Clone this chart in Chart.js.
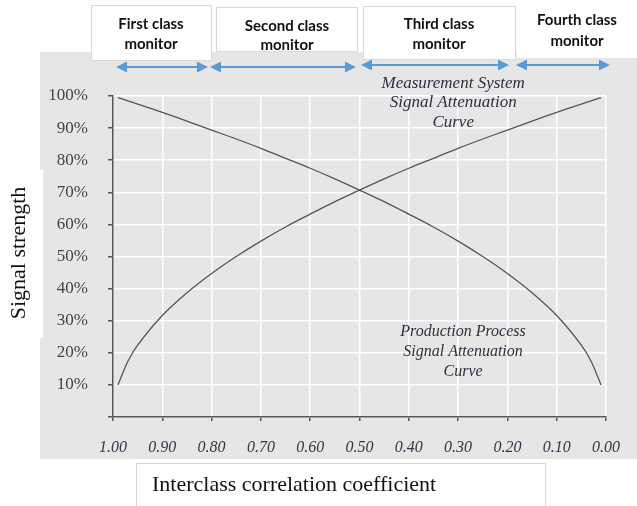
<!DOCTYPE html>
<html>
<head>
<meta charset="utf-8">
<script src="https://cdn.jsdelivr.net/npm/chart.js@4"></script>
<style>
  body { margin: 0; background: #fff; }
  canvas { display: block; }
</style>
</head>
<body>
<canvas id="myChart" width="637" height="506"></canvas>
<script>
// values
const icc = [0.99, 0.97, 0.95, 0.90, 0.85, 0.80, 0.75, 0.70, 0.65, 0.60, 0.55, 0.50, 0.45, 0.40, 0.35, 0.30, 0.25, 0.20, 0.15, 0.10, 0.05, 0.03, 0.01];
const measurement = [10, 17.3, 22.4, 31.6, 38.7, 44.7, 50, 54.8, 59.2, 63.2, 67.1, 70.7, 74.2, 77.5, 80.6, 83.7, 86.6, 89.4, 92.2, 94.9, 97.5, 98.5, 99.5];
const production = [99.5, 98.5, 97.5, 94.9, 92.2, 89.4, 86.6, 83.7, 80.6, 77.5, 74.2, 70.7, 67.1, 63.2, 59.2, 54.8, 50, 44.7, 38.7, 31.6, 22.4, 17.3, 10];
const monitors = [['First class', 'monitor'], ['Second class', 'monitor'], ['Third class', 'monitor'], ['Fourth class', 'monitor']];
const yLabel = 'Signal strength';
const xLabel = 'Interclass correlation coefficient';
const measurementNote = ['Measurement System', 'Signal Attenuation', 'Curve'];
const productionNote = ['Production Process', 'Signal Attenuation', 'Curve'];

const toPoints = (ys) => icc.map((x, i) => ({ x: x, y: ys[i] }));

const arrow = (ctx, x1, x2, y) => {
    ctx.save();
    ctx.strokeStyle = '#5b9bd5';
    ctx.fillStyle = '#5b9bd5';
    ctx.lineWidth = 2;
    ctx.beginPath();
    ctx.moveTo(x1 + 6, y);
    ctx.lineTo(x2 - 6, y);
    ctx.stroke();
    ctx.beginPath();
    ctx.moveTo(x1, y); ctx.lineTo(x1 + 11, y - 5.5); ctx.lineTo(x1 + 11, y + 5.5); ctx.closePath();
    ctx.moveTo(x2, y); ctx.lineTo(x2 - 11, y - 5.5); ctx.lineTo(x2 - 11, y + 5.5); ctx.closePath();
    ctx.fill();
    ctx.restore();
}

const backdrop = {
    id: 'backdrop',
    beforeDraw(chart) {
        const ctx = chart.ctx;
        ctx.save();
        ctx.fillStyle = '#fff';
        ctx.fillRect(0, 0, 637, 506);
        ctx.fillStyle = '#e6e6e6';
        ctx.fillRect(40, 52, 597, 407);

        // header boxes
        const boxes = [[91, 5, 121, 56, true], [216, 7, 142, 45, true], [363, 6, 153, 54, true], [517, 0, 120, 58, false]];
        boxes.forEach(([x, y, w, h, border]) => {
            ctx.fillStyle = '#fff';
            ctx.fillRect(x, y, w, h);
            if (border) {
                ctx.strokeStyle = '#d9d9d9';
                ctx.lineWidth = 1;
                ctx.strokeRect(x + 0.5, y + 0.5, w - 1, h - 1);
            }
        });

        // axis title boxes
        ctx.fillStyle = '#fff';
        ctx.fillRect(0, 170, 43, 168);
        ctx.fillRect(136, 463, 410, 43);
        ctx.strokeStyle = '#d9d9d9';
        ctx.strokeRect(136.5, 463.5, 409, 44);

        arrow(ctx, 116, 208, 67);
        arrow(ctx, 210, 356, 67);
        arrow(ctx, 361, 509, 65);
        arrow(ctx, 516, 610, 65);
        ctx.restore();
    },
    afterDraw(chart) {
        const ctx = chart.ctx;
        const xs = chart.scales.x, ys = chart.scales.y;
        ctx.save();
        ctx.textAlign = 'center';
        ctx.textBaseline = 'middle';

        ctx.fillStyle = '#111';
        ctx.font = 'bold 15px Lato';
        const heads = [[151, 24, 44], [287, 26, 45], [439, 24, 44], [577, 20, 41]];
        heads.forEach(([cx, y1, y2], i) => {
            ctx.fillText(monitors[i][0], cx, y1);
            ctx.fillText(monitors[i][1], cx, y2);
        });

        ctx.fillStyle = '#30303f';
        ctx.font = 'italic 17px "Liberation Serif"';
        measurementNote.forEach((t, i) => {
            ctx.fillText(t, xs.getPixelForValue(0.31), ys.getPixelForValue(104) + i * 19.5);
        });
        ctx.font = 'italic 16px "Liberation Serif"';
        productionNote.forEach((t, i) => {
            ctx.fillText(t, xs.getPixelForValue(0.29), ys.getPixelForValue(26.5) + i * 20);
        });

        ctx.fillStyle = '#111';
        ctx.font = '22px "Liberation Serif"';
        ctx.textAlign = 'left';
        ctx.fillText(xLabel, 152, 485);

        ctx.translate(19, 253);
        ctx.rotate(-Math.PI / 2);
        ctx.textAlign = 'center';
        ctx.fillText(yLabel, 0, 0);
        ctx.restore();
    }
};

const ctx = document.getElementById('myChart').getContext('2d');
new Chart(ctx, {
    type: 'line',
    data: {
        datasets: [{
            label: 'Measurement System',
            data: toPoints(measurement),
            borderColor: '#555',
            borderWidth: 1.3,
            pointRadius: 0,
            tension: 0.3
        }, {
            label: 'Production Process',
            data: toPoints(production),
            borderColor: '#555',
            borderWidth: 1.3,
            pointRadius: 0,
            tension: 0.3
        }]
    },
    options: {
        responsive: false,
        animation: false,
        devicePixelRatio: 1,
        layout: { padding: { left: 0, top: 96, right: 31, bottom: 0 } },
        plugins: { legend: { display: false }, tooltip: { enabled: false } },
        scales: {
            x: {
                type: 'linear',
                reverse: true,
                min: 0,
                max: 1,
                afterFit: (scale) => { scale.height = 89; },
                ticks: {
                    stepSize: 0.1,
                    padding: 17,
                    color: '#35354a',
                    font: { family: 'Liberation Serif', size: 16, style: 'italic' },
                    callback: (v) => Number(v).toFixed(2)
                },
                grid: { color: '#fff', lineWidth: 1.5, tickColor: '#555', tickLength: 4 },
                border: { color: '#555', width: 1.5 }
            },
            y: {
                min: 0,
                max: 100,
                afterFit: (scale) => { scale.width = 113; },
                ticks: {
                    stepSize: 10,
                    padding: 20,
                    color: '#444',
                    font: { family: 'Liberation Serif', size: 17 },
                    callback: (v) => v === 0 ? '' : v + '%'
                },
                grid: { color: '#fff', lineWidth: 1.5, tickColor: '#555', tickLength: 5 },
                border: { color: '#555', width: 1.5 }
            }
        }
    },
    plugins: [backdrop]
});
</script>
</body>
</html>
